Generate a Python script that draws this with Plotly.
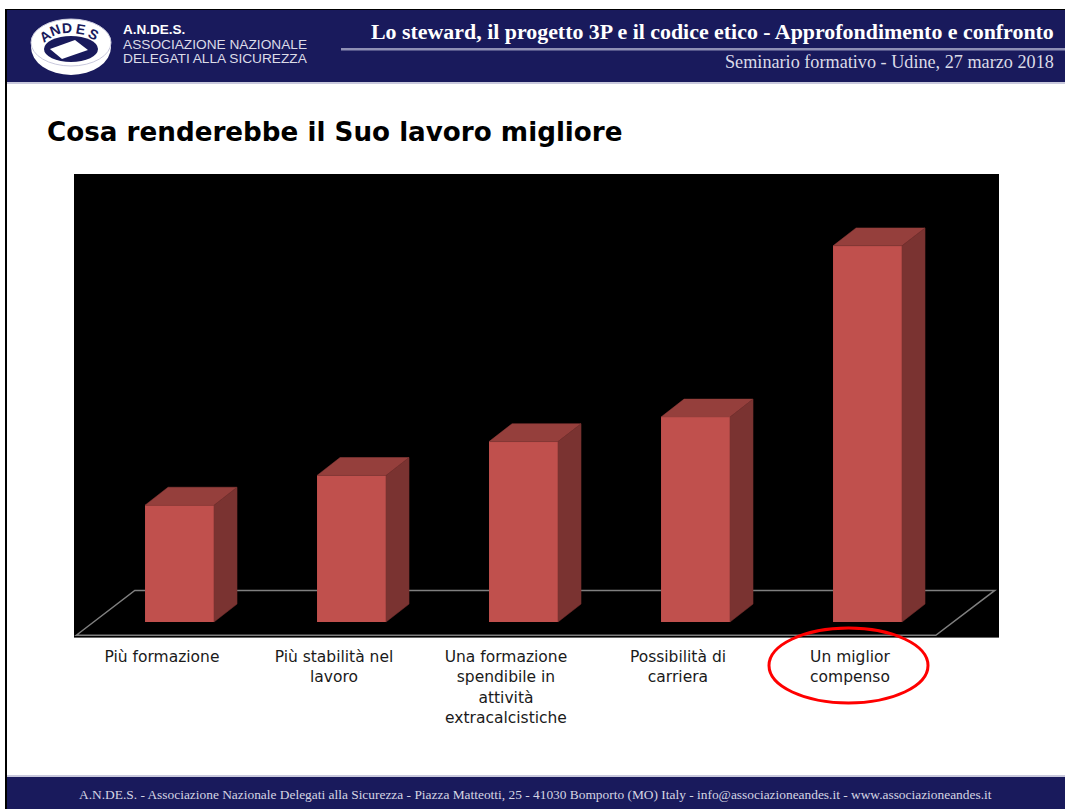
import plotly.graph_objects as go

# no axis on the original so shares of 100 are an estimate
categories = ["Più formazione", "Più stabilità nel<br>lavoro",
              "Una formazione<br>spendibile in<br>attività<br>extracalcistiche",
              "Possibilità di<br>carriera", "Un miglior<br>compenso"]
values = [11.4, 14.3, 17.6, 20.0, 36.7]

NAVY = '#191a5c'
FRONT = '#c0504d'
TOP = '#953f3c'
SIDE = '#7a3331'
W, H = 1065, 809

# pixel helpers for the slide furniture
def px(x):
    return x / W
def py(y):
    return 1 - y / H

# bar geometry in axis units
bar_w = 0.401
depth_x = 0.134
depth_y = 1.75

xs = list(range(len(values)))
fig = go.Figure()
fig.add_trace(go.Bar(x=xs, y=values, width=bar_w, marker=dict(color=FRONT, line=dict(width=0)),
                     showlegend=False, name='Front'))

# 3D look: top and side faces come from the same values
for i, v in zip(xs, values):
    l, r = i - bar_w / 2, i + bar_w / 2
    fig.add_trace(go.Scatter(x=[l, r, r + depth_x, l + depth_x, l], y=[v, v, v + depth_y, v + depth_y, v],
                             mode='lines', fill='toself', fillcolor=TOP, line=dict(color=TOP, width=0.5),
                             showlegend=False, hoverinfo='skip'))
    fig.add_trace(go.Scatter(x=[r, r + depth_x, r + depth_x, r, r], y=[0, depth_y, v + depth_y, v, 0],
                             mode='lines', fill='toself', fillcolor=SIDE, line=dict(color=SIDE, width=0.5),
                             showlegend=False, hoverinfo='skip'))

def paper_path(points):
    return 'M ' + ' L '.join('%.4f %.4f' % (px(a), py(b)) for a, b in points) + ' Z'

shapes = [
    # floor of the chart
    dict(type='path', layer='below', xref='x', yref='y', line=dict(color='#7f7f7f', width=1.5),
         path='M -0.600 -1.29 L -0.260 3.08 L 4.740 3.08 L 4.397 -1.29 Z'),
    # header and footer
    dict(type='rect', layer='below', xref='paper', yref='paper', x0=px(6), x1=1, y0=py(82), y1=py(10),
         fillcolor=NAVY, line_width=0),
    dict(type='rect', layer='below', xref='paper', yref='paper', x0=px(6), x1=1, y0=py(84), y1=py(82),
         fillcolor='#c9c9dd', line_width=0),
    dict(type='rect', layer='below', xref='paper', yref='paper', x0=px(6), x1=1, y0=0, y1=py(777),
         fillcolor=NAVY, line_width=0),
    dict(type='rect', layer='below', xref='paper', yref='paper', x0=px(6), x1=1, y0=py(777), y1=py(775),
         fillcolor='#c9c9dd', line_width=0),
    dict(type='rect', layer='below', xref='paper', yref='paper', x0=px(5), x1=1, y0=py(10), y1=py(9),
         fillcolor='#000000', line_width=0),
    dict(type='rect', layer='below', xref='paper', yref='paper', x0=px(5), x1=px(7), y0=0, y1=py(9),
         fillcolor='#000000', line_width=0),
    dict(type='rect', layer='below', xref='paper', yref='paper', x0=px(341), x1=1, y0=py(50.5), y1=py(48),
         fillcolor='#8f90b5', line_width=0),
    # logo: white disc, rim, dark ring, plate
    dict(type='circle', xref='paper', yref='paper', x0=px(31), x1=px(111), y0=py(75), y1=py(19),
         fillcolor='#ffffff', line_width=0),
    dict(type='circle', xref='paper', yref='paper', x0=px(31), x1=px(111), y0=py(66), y1=py(19),
         fillcolor='#ffffff', line=dict(color='#c9c9dd', width=1)),
    dict(type='circle', xref='paper', yref='paper', x0=px(44), x1=px(98), y0=py(62), y1=py(36),
         fillcolor=NAVY, line_width=0),
    dict(type='path', xref='paper', yref='paper', fillcolor='#ffffff', line_width=0,
         path=paper_path([(50, 49), (75, 40), (88, 50), (62, 59)])),
    # red circle around the last label
    dict(type='circle', xref='paper', yref='paper', x0=px(769), x1=px(928), y0=py(703), y1=py(628),
         line=dict(color='#ff0000', width=3)),
]

def note(x, y, text, size, color='#ffffff', family='Liberation Serif', anchor='center', angle=0):
    return dict(xref='paper', yref='paper', x=px(x), y=py(y), text=text, showarrow=False, xanchor=anchor,
                yanchor='middle', textangle=angle, font=dict(size=size, color=color, family=family))

annotations = [
    note(369, 31, '<b>Lo steward, il progetto 3P e il codice etico - Approfondimento e confronto</b>', 21.9, anchor='left'),
    note(1056, 62, 'Seminario formativo - Udine, 27 marzo 2018', 18.2, color='#dcdce8', anchor='right'),
    note(535, 794, 'A.N.DE.S. - Associazione Nazionale Delegati alla Sicurezza - Piazza Matteotti, 25 - 41030 Bomporto (MO) Italy - info@associazioneandes.it - www.associazioneandes.it',
         13.4, color='#d5d5e3'),
    note(121, 30, '<b>A.N.DE.S.</b>', 13.5, family='Liberation Sans', anchor='left'),
    note(121, 44, 'ASSOCIAZIONE NAZIONALE', 13.7, color='#dcdce8', family='Liberation Sans', anchor='left'),
    note(121, 59, 'DELEGATI ALLA SICUREZZA', 13.7, color='#dcdce8', family='Liberation Sans', anchor='left'),
]
# letters of the logo follow the arc of the ring
for letter, lx, ly, rot in [('A', 45, 36, -35), ('N', 55, 30, -20), ('D', 67, 28, -4), ('E', 80, 29, 10), ('S', 93, 34, 28)]:
    annotations.append(note(lx, ly, '<b>%s</b>' % letter, 14, color=NAVY, family='Liberation Sans', angle=rot))

fig.update_layout(
    width=W, height=H,
    margin=dict(l=0, r=0, t=0, b=0),
    paper_bgcolor='#ffffff',
    plot_bgcolor='#000000',
    showlegend=False,
    title=dict(text='<b>Cosa renderebbe il Suo lavoro migliore</b>', x=px(47), xanchor='left', y=py(132), yanchor='middle',
               font=dict(family='DejaVu Sans', size=26.2, color='#000000')),
    xaxis=dict(domain=[px(74), px(999)], range=[-0.6134, 4.7645], showgrid=False, zeroline=False, showline=False,
               tickmode='array', tickvals=[i - 0.102 for i in xs], ticktext=categories, tickangle=0, ticks='outside',
               ticklen=5, tickcolor='rgba(0,0,0,0)', tickfont=dict(family='DejaVu Sans', size=15.5, color='#1a1a1a')),
    yaxis=dict(domain=[py(637.6), py(174)], range=[-1.52, 43.71], showgrid=False, zeroline=False, showline=False,
               showticklabels=False, ticks=''),
    shapes=shapes,
    annotations=annotations,
)

fig.write_html("out.html", config=dict(displayModeBar=False),
               post_script="document.body.style.margin='0';document.body.style.overflow='hidden';")
